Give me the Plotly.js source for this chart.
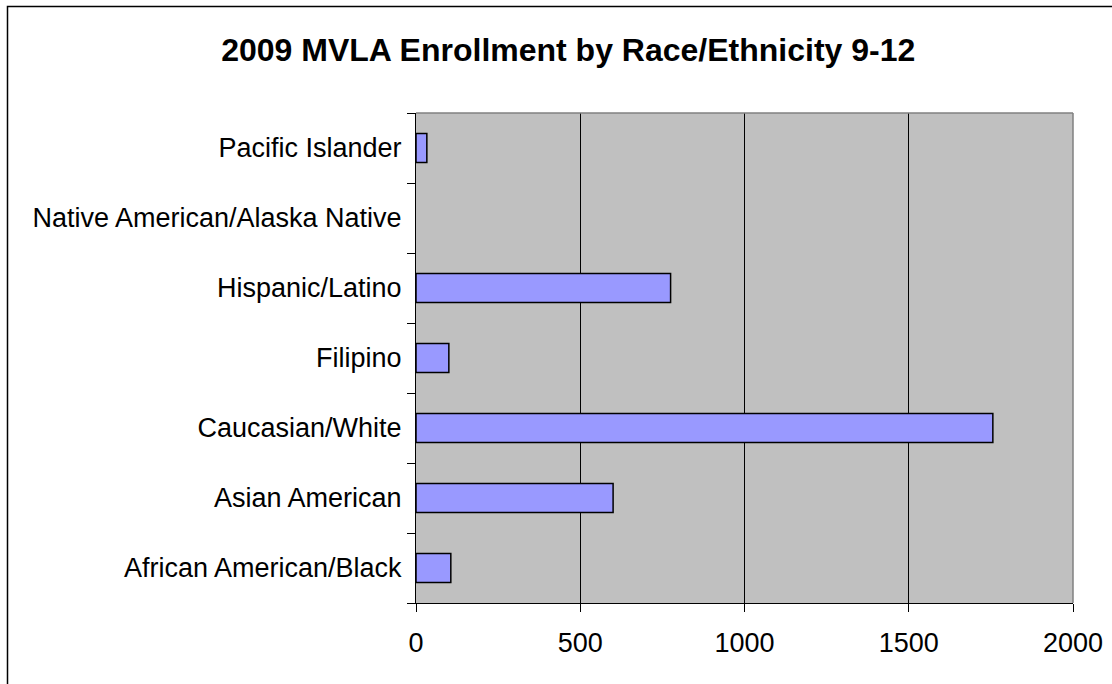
<!DOCTYPE html>
<html>
<head>
<meta charset="utf-8">
<script src="https://cdn.plot.ly/plotly-3.0.1.min.js"></script>
<style>html,body{margin:0;padding:0;background:#fff;}#chart{width:1112px;height:684px;}</style>
</head>
<body>
<div id="chart"></div>
<script>
const categories = ["African American/Black", "Asian American", "Caucasian/White", "Filipino", "Hispanic/Latino", "Native American/Alaska Native", "Pacific Islander"];
const enrollment = [106, 600, 1756, 100, 775, 0, 33];
const xTicks = [0, 500, 1000, 1500, 2000];
const chartTitle = "2009 MVLA Enrollment by Race/Ethnicity 9-12";

const trace = {
  type: 'bar',
  orientation: 'h',
  y: categories,
  x: enrollment,
  marker: {color: '#9999FF', line: {color: '#000000', width: enrollment.map(v => v > 0 ? 1.5 : 0)}},
  hoverinfo: 'x+y'
};

const layout = {
  width: 1112, height: 684,
  margin: {l: 416, r: 39, t: 113, b: 81, pad: 0},
  paper_bgcolor: '#ffffff',
  plot_bgcolor: '#C0C0C0',
  bargap: 0.586,
  showlegend: false,
  font: {family: 'Liberation Sans, Arial, sans-serif', color: '#000000'},
  title: {
    text: chartTitle,
    font: {family: 'Liberation Sans, Arial, sans-serif', size: 32, weight: 'bold', color: '#000000'},
    xref: 'container', x: 0.511, xanchor: 'center',
    yref: 'container', y: 1 - 50/684, yanchor: 'middle'
  },
  xaxis: {
    range: [0, 2000],
    tickvals: xTicks,
    ticktext: xTicks.map(String),
    showgrid: true, gridcolor: '#000000', gridwidth: 1,
    zeroline: false,
    showline: true, linecolor: '#000000', linewidth: 1,
    ticks: 'outside', ticklen: 8, tickcolor: '#000000', tickwidth: 1,
    tickfont: {size: 27, color: '#000000'},
    ticklabelstandoff: 8,
    fixedrange: true
  },
  yaxis: {
    type: 'category',
    categoryorder: 'array', categoryarray: categories,
    range: [-0.5, 6.5],
    showgrid: false, zeroline: false,
    showline: true, linecolor: '#000000', linewidth: 1,
    ticks: 'outside', ticklen: 8, tickcolor: '#000000', tickwidth: 1,
    tickson: 'boundaries',
    tickfont: {size: 27, color: '#000000'},
    ticklabelstandoff: 8,
    fixedrange: true
  },
  shapes: [
    {type: 'line', xref: 'paper', yref: 'paper', x0: 0, x1: 1, y0: 1, y1: 1, line: {color: '#808080', width: 1.5}, layer: 'above'},
    {type: 'line', xref: 'paper', yref: 'paper', x0: 1, x1: 1, y0: 0, y1: 1, line: {color: '#808080', width: 1.5}, layer: 'above'},
    {type: 'rect', xref: 'paper', yref: 'paper',
     x0: (7.5 - 416) / 657, x1: 1.2,
     y0: -0.5, y1: 1 + (113 - 6.5) / 490,
     line: {color: '#000000', width: 1.5}, fillcolor: 'rgba(0,0,0,0)', layer: 'above'}
  ]
};

Plotly.newPlot('chart', [trace], layout, {displayModeBar: false, staticPlot: true});
</script>
</body>
</html>
